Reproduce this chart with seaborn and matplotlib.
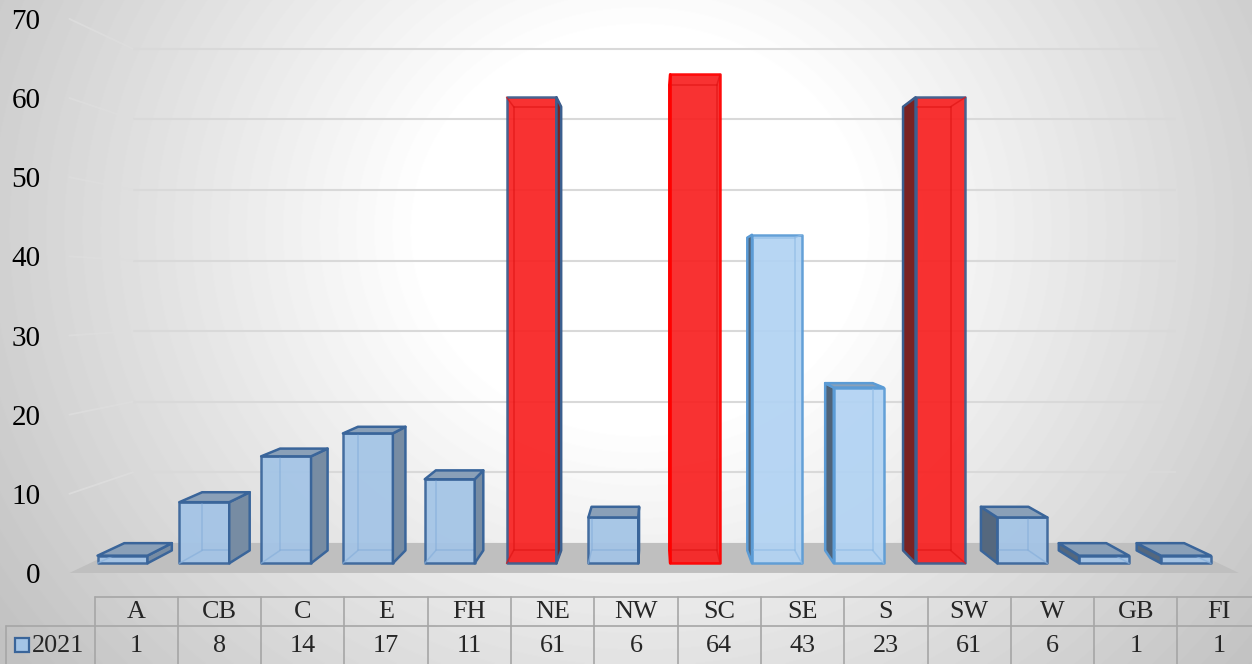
import numpy as np
import pandas as pd
import matplotlib
matplotlib.use("Agg")
import matplotlib.pyplot as plt
import seaborn as sns
from matplotlib.patches import Polygon, Rectangle

# данные
categories = ["A", "CB", "C", "E", "FH", "NE", "NW", "SC", "SE", "S", "SW", "W", "GB", "FI"]
values_2021 = [1, 8, 14, 17, 11, 61, 6, 64, 43, 23, 61, 6, 1, 1]
series_name = "2021"
y_ticks = [0, 10, 20, 30, 40, 50, 60, 70]
red_categories = ["NE", "SC", "SW"]
pale_categories = ["SE", "S"]

# стиль
sns.set_style("white")
plt.rcParams["font.family"] = ["Liberation Serif", "DejaVu Serif"]

W_PX, H_PX = 1252, 664
# перспектива (в координатах передней плоскости столбцов)
VP_X, VP_Y = 6.51, 35.1
S_BACK = 0.952    # задняя грань столбца
S_LABEL = 1.036   # плоскость подписей оси / передний край пола
S_WALL = 0.924    # задняя стенка
WALL_X = (-0.4, 13.4)


def proj(x, y, s):
    return VP_X + (x - VP_X) * s, VP_Y + (y - VP_Y) * s


def bar_style(cat):
    if cat in red_categories:
        edge = "#ff0000" if cat == "SC" else "#3b5f8f"
        return dict(fill="#f82222", edge=edge, inner="#e01515",
                    side_l="#7a2222", side_r="#7a2222", top="#d04040")
    if cat in pale_categories:
        return dict(fill="#b2d3f3", edge="#5b9bd5", inner="#8fbbe6",
                    side_l="#4f6378", side_r="#778ca3", top="#8aa0b8")
    return dict(fill="#a3c4e6", edge="#3a659a", inner="#88b0db",
                side_l="#55687e", side_r="#778ca3", top="#8aa0b8")


fig = plt.figure(figsize=(W_PX / 100, H_PX / 100), dpi=100)

# фон с радиальным градиентом
bg = fig.add_axes([0, 0, 1, 1], zorder=0)
yy, xx = np.mgrid[0:H_PX, 0:W_PX]
d = np.hypot(xx - 640, (yy - 230) / 0.9)
t = np.clip((d - 220) / 560, 0, 1)
shade = 1 - 0.24 * t
bg.imshow(shade, cmap="gray", vmin=0, vmax=1, aspect="auto")
bg.axis("off")

# основная область
L = 60 / W_PX
ax = fig.add_axes([L, 0, 1 - L, 1], zorder=1)
ax.set_facecolor("none")

df = pd.DataFrame({"region": categories, "count": values_2021})
palette = {c: bar_style(c)["fill"] for c in categories}
sns.barplot(data=df, x="region", y="count", hue="region", palette=palette,
            order=categories, hue_order=categories, width=0.61, legend=False,
            saturation=1, ax=ax, zorder=4)
bars = sorted([p for p in ax.patches if isinstance(p, Rectangle)],
              key=lambda p: p.get_x())

x_left = (60 - 122.5) / 81.8
x_right = (W_PX - 122.5) / 81.8
ax.set_xlim(x_left, x_right)
ax.set_ylim((563.3 - H_PX) / 7.64, 563.3 / 7.64)

# пол
fx0, fy0 = proj(WALL_X[0], 0, S_LABEL)
fx1, _ = proj(WALL_X[1], 0, S_LABEL)
bx0, by0 = proj(WALL_X[0], 0, S_WALL)
bx1, _ = proj(WALL_X[1], 0, S_WALL)
ax.add_patch(Polygon([(fx0, fy0), (fx1, fy0), (bx1, by0), (bx0, by0)],
                     closed=True, facecolor="#bfbfbf", edgecolor="none", zorder=2))

# линии сетки на стенках
for v in y_ticks[1:]:
    wx0, wy = proj(WALL_X[0], v, S_WALL)
    wx1, _ = proj(WALL_X[1], v, S_WALL)
    ax.plot([wx0, wx1], [wy, wy], color="#d9d9d9", lw=1.5, zorder=1.5,
            solid_capstyle="butt")
    sx, sy = proj(WALL_X[0], v, S_LABEL)
    ax.plot([sx, wx0], [sy, wy], color="#dedede", lw=1.3, zorder=1.5, alpha=0.8)

# объёмные грани столбцов
for cat, patch in zip(categories, bars):
    st = bar_style(cat)
    patch.set_edgecolor(st["edge"])
    patch.set_linewidth(1.8)
    patch.set_alpha(0.93)
    patch.set_joinstyle("round")
    x0 = patch.get_x()
    x1 = x0 + patch.get_width()
    h = patch.get_height()
    bl = proj(x0, 0, S_BACK)
    br = proj(x1, 0, S_BACK)
    tl = proj(x0, h, S_BACK)
    tr = proj(x1, h, S_BACK)
    # скрытые рёбра, видимые сквозь прозрачную грань
    for a, b in [(bl, br), (bl, tl), (br, tr), (tl, tr),
                 ((x0, 0), bl), ((x1, 0), br), ((x0, h), tl), ((x1, h), tr)]:
        ax.plot([a[0], b[0]], [a[1], b[1]], color=st["inner"], lw=1.1,
                alpha=0.7, zorder=4.5)
    if x1 < VP_X:
        ax.add_patch(Polygon([(x1, 0), (x1, h), tr, br], closed=True,
                             facecolor=st["side_r"], edgecolor=st["edge"],
                             lw=1.8, joinstyle="round", zorder=5))
    elif x0 > VP_X:
        ax.add_patch(Polygon([(x0, 0), (x0, h), tl, bl], closed=True,
                             facecolor=st["side_l"], edgecolor=st["edge"],
                             lw=1.8, joinstyle="round", zorder=5))
    if h < VP_Y:
        ax.add_patch(Polygon([(x0, h), (x1, h), tr, tl], closed=True,
                             facecolor=st["top"], edgecolor=st["edge"],
                             lw=1.8, joinstyle="round", zorder=5))

# подписи оси Y
ax.set_yticks([proj(0, v, S_LABEL)[1] for v in y_ticks],
              labels=[str(v) for v in y_ticks])
ax.tick_params(axis="y", length=0, pad=14, labelsize=21, labelcolor="black")
ax.set_xticks([])
ax.set_xlabel("")
ax.set_ylabel("")
for sp in ax.spines.values():
    sp.set_visible(False)

# таблица данных
ROW_H = 29.0
FS_TAB = 18.8
tab = fig.add_axes([0, 0, 1, 67 / H_PX], zorder=2)
tab.set_facecolor("none")
tab.set_xlim((0 - 136.2) / 83.3, (W_PX - 136.2) / 83.3)
tab.set_ylim(67 / ROW_H, 0)
tab.axis("off")
n = len(categories)
line_kw = dict(color="#a6a6a6", lw=1.2, clip_on=False)
left_cell = (6 - 136.2) / 83.3
tab.plot([-0.5, n - 0.5], [0, 0], **line_kw)
tab.plot([left_cell, n - 0.5], [1, 1], **line_kw)
tab.plot([left_cell, left_cell], [1, 3], **line_kw)
for i in range(n + 1):
    tab.plot([i - 0.5, i - 0.5], [0, 3], **line_kw)
for i, (cat, v) in enumerate(zip(categories, values_2021)):
    tab.text(i, 0.52, cat, ha="center", va="center", fontsize=FS_TAB)
    tab.text(i, 1.68, str(v), ha="center", va="center", fontsize=FS_TAB)
tab.plot([(21.5 - 136.2) / 83.3], [1.66], marker="s", ms=10.5,
         mfc="#a3c4e6", mec="#3a659a", mew=1.6)
tab.text((32 - 136.2) / 83.3, 1.68, series_name, ha="left", va="center",
         fontsize=FS_TAB)

fig.savefig("out.png", dpi=100)
